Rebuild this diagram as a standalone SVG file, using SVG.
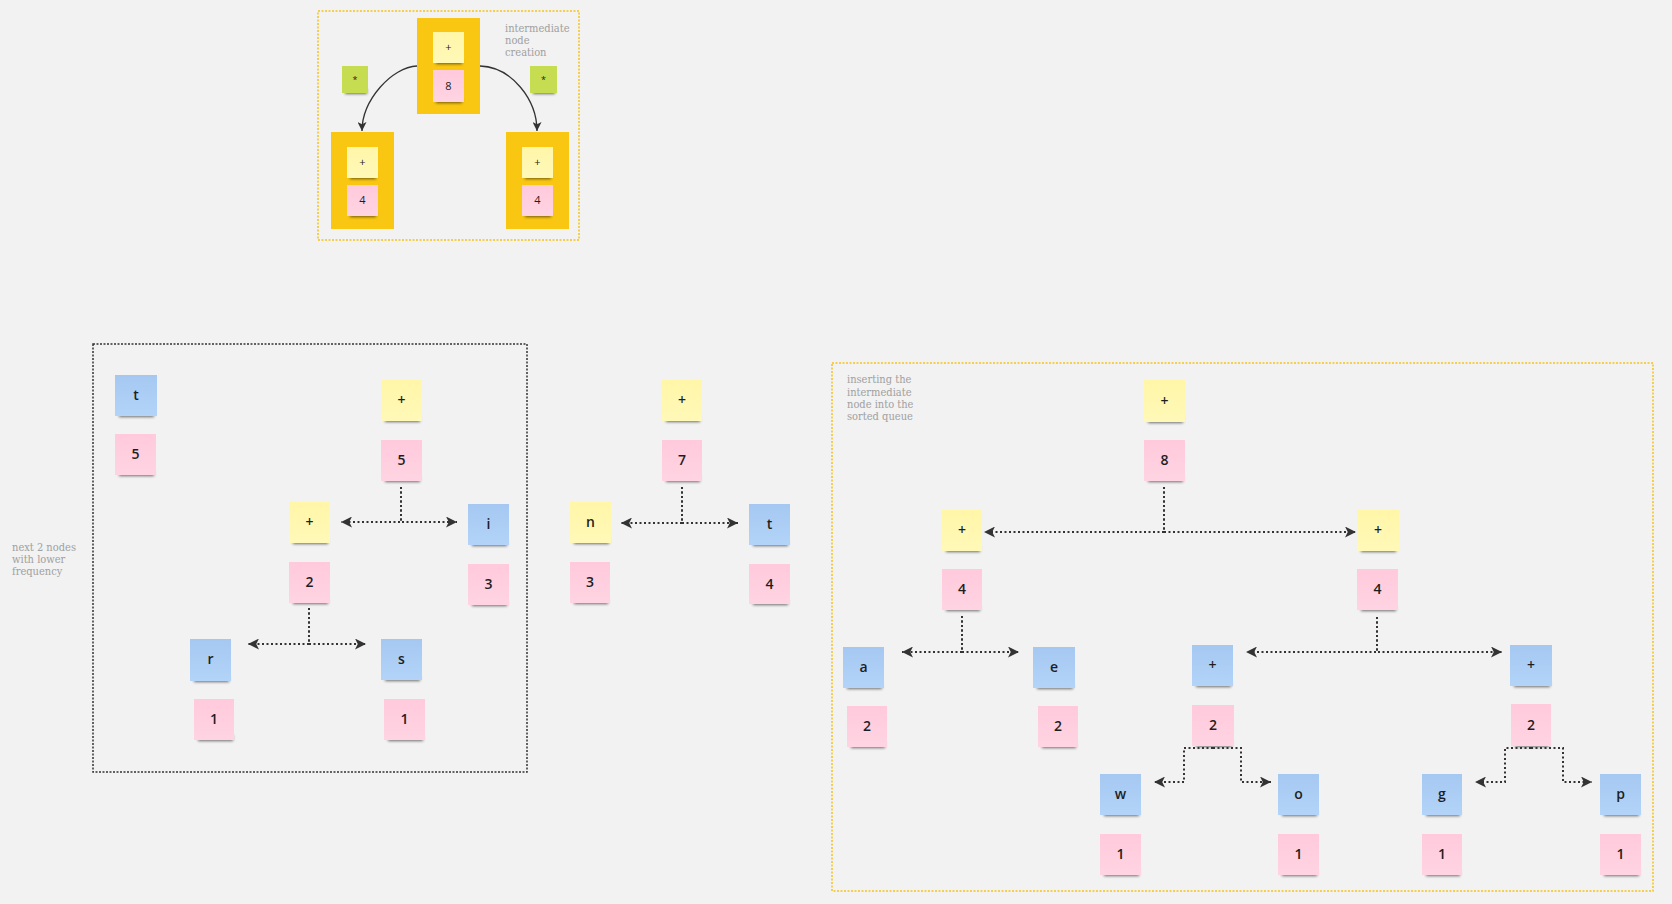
<svg xmlns="http://www.w3.org/2000/svg" width="1672" height="904" viewBox="0 0 1672 904">
<defs>
<style>
.bg{fill:#f2f2f2}
.blue{fill:url(#gBlue)}
.pink{fill:url(#gPink)}
.yel{fill:url(#gYel)}
.grn{fill:#c6dd52}
.org{fill:#f9c612}
.sh{fill:#000;opacity:.55;filter:url(#blur)}
.lbl{font-family:"Open Sans","Liberation Sans",sans-serif;font-size:14px;font-weight:600;fill:#1e1e1e;text-anchor:middle}
.sm{font-family:"Open Sans","Liberation Sans",sans-serif;font-size:11px;fill:#1e1e1e;text-anchor:middle}
.note{font-family:"DejaVu Serif Condensed","DejaVu Serif",serif;font-size:11px;fill:#a0a0a0}
.dot{fill:none;stroke:#333;stroke-width:2;stroke-dasharray:2 2.5}
.curve{fill:none;stroke:#333;stroke-width:1.3}
.frameY{fill:none;stroke:#f7c21a;stroke-width:1.5;stroke-dasharray:2 1.5}
.frameK{fill:none;stroke:#333;stroke-width:1.5;stroke-dasharray:2 1.5}
</style>
<linearGradient id="gBlue" x1="0" y1="0" x2="0" y2="1"><stop offset="0" stop-color="#a5c8f2"/><stop offset="1" stop-color="#b3d4f8"/></linearGradient>
<linearGradient id="gPink" x1="0" y1="0" x2="0" y2="1"><stop offset="0" stop-color="#ffcadc"/><stop offset="1" stop-color="#ffd4e2"/></linearGradient>
<linearGradient id="gYel" x1="0" y1="0" x2="0" y2="1"><stop offset="0" stop-color="#fff6a8"/><stop offset="1" stop-color="#fff9b8"/></linearGradient>
<filter id="blur" x="-20%" y="-100%" width="140%" height="300%"><feGaussianBlur stdDeviation="1.4"/></filter>
<marker id="ah" viewBox="0 0 10 10" refX="10" refY="5" markerWidth="11" markerHeight="11" markerUnits="userSpaceOnUse" orient="auto"><path d="M0,0 L10,5 L0,10 L2.5,5 Z" fill="#333"/></marker>
<marker id="ahs" viewBox="0 0 8 8" refX="8" refY="4" markerWidth="9" markerHeight="9" markerUnits="userSpaceOnUse" orient="auto"><path d="M0,0 L8,4 L0,8 L2,4 Z" fill="#333"/></marker>
</defs>
<rect class="bg" x="0" y="0" width="1672" height="904"/>

<g id="frames">
<rect class="frameY" x="318" y="11" width="261" height="229"/>
<rect class="frameK" x="93" y="344" width="434" height="428"/>
<rect class="frameY" x="832" y="363" width="821" height="528"/>
</g>

<g id="annotations">
<text class="note" x="505" y="32">intermediate</text>
<text class="note" x="505" y="44">node</text>
<text class="note" x="505" y="56">creation</text>
<text class="note" x="847" y="383">inserting the</text>
<text class="note" x="847" y="396">intermediate</text>
<text class="note" x="847" y="408">node into the</text>
<text class="note" x="847" y="420">sorted queue</text>
<text class="note" x="12" y="551">next 2 nodes</text>
<text class="note" x="12" y="563">with lower</text>
<text class="note" x="12" y="575">frequency</text>
</g>

<!-- top section -->
<g id="top-root">
<rect class="org" x="417" y="18" width="63" height="96"/>
<rect class="sh" x="436" y="59" width="26" height="5"/><rect class="yel" x="433" y="32" width="31" height="31"/><text class="sm" x="448.5" y="51">+</text>
<rect class="sh" x="436" y="98" width="26" height="5"/><rect class="pink" x="433" y="70" width="31" height="32"/><text class="sm" x="448.5" y="90">8</text>
</g>
<g id="top-left">
<rect class="org" x="331" y="132" width="63" height="97"/>
<rect class="sh" x="350" y="174" width="26" height="5"/><rect class="yel" x="347" y="147" width="31" height="31"/><text class="sm" x="362.5" y="166">+</text>
<rect class="sh" x="350" y="212" width="26" height="5"/><rect class="pink" x="347" y="185" width="31" height="31"/><text class="sm" x="362.5" y="204">4</text>
</g>
<g id="top-right">
<rect class="org" x="506" y="132" width="63" height="97"/>
<rect class="sh" x="525" y="174" width="26" height="5"/><rect class="yel" x="522" y="147" width="31" height="31"/><text class="sm" x="537.5" y="166">+</text>
<rect class="sh" x="525" y="212" width="26" height="5"/><rect class="pink" x="522" y="185" width="31" height="31"/><text class="sm" x="537.5" y="204">4</text>
</g>
<g id="top-star-left">
<rect class="sh" x="345" y="89" width="22" height="5"/><rect class="grn" x="342" y="66" width="26" height="27"/><text class="sm" x="355" y="83" style="font-size:9px">*</text>
</g>
<g id="top-star-right">
<rect class="sh" x="533" y="89" width="22" height="5"/><rect class="grn" x="530" y="66" width="27" height="27"/><text class="sm" x="543.5" y="83" style="font-size:9px">*</text>
</g>

<!-- section A -->
<g id="a-t"><rect class="sh" x="119" y="411" width="35" height="6"/><rect class="blue" x="115" y="375" width="42" height="41"/><text class="lbl" x="136" y="400">t</text></g>
<g id="a-t5"><rect class="sh" x="119" y="470" width="35" height="6"/><rect class="pink" x="115" y="434" width="41" height="41"/><text class="lbl" x="135.5" y="459">5</text></g>
<g id="a-plus1"><rect class="sh" x="385" y="416" width="35" height="6"/><rect class="yel" x="381" y="380" width="41" height="41"/><text class="lbl" x="401.5" y="405">+</text></g>
<g id="a-plus1-5"><rect class="sh" x="385" y="476" width="35" height="6"/><rect class="pink" x="381" y="440" width="41" height="41"/><text class="lbl" x="401.5" y="465">5</text></g>
<g id="a-plus2"><rect class="sh" x="293" y="538" width="35" height="6"/><rect class="yel" x="289" y="502" width="41" height="41"/><text class="lbl" x="309.5" y="527">+</text></g>
<g id="a-plus2-2"><rect class="sh" x="293" y="598" width="35" height="6"/><rect class="pink" x="289" y="562" width="41" height="41"/><text class="lbl" x="309.5" y="587">2</text></g>
<g id="a-i"><rect class="sh" x="472" y="540" width="35" height="6"/><rect class="blue" x="468" y="504" width="41" height="41"/><text class="lbl" x="488.5" y="529">i</text></g>
<g id="a-i3"><rect class="sh" x="472" y="600" width="35" height="6"/><rect class="pink" x="468" y="564" width="41" height="41"/><text class="lbl" x="488.5" y="589">3</text></g>
<g id="a-r"><rect class="sh" x="194" y="676" width="35" height="6"/><rect class="blue" x="190" y="639" width="41" height="42"/><text class="lbl" x="210.5" y="664">r</text></g>
<g id="a-r1"><rect class="sh" x="198" y="735" width="35" height="6"/><rect class="pink" x="194" y="699" width="40" height="41"/><text class="lbl" x="214" y="724">1</text></g>
<g id="a-s"><rect class="sh" x="385" y="675" width="35" height="6"/><rect class="blue" x="381" y="639" width="41" height="41"/><text class="lbl" x="401.5" y="664">s</text></g>
<g id="a-s1"><rect class="sh" x="388" y="735" width="35" height="6"/><rect class="pink" x="384" y="699" width="41" height="41"/><text class="lbl" x="404.5" y="724">1</text></g>

<!-- section B -->
<g id="b-plus"><rect class="sh" x="666" y="416" width="34" height="6"/><rect class="yel" x="662" y="380" width="40" height="41"/><text class="lbl" x="682" y="405">+</text></g>
<g id="b-plus7"><rect class="sh" x="666" y="476" width="34" height="6"/><rect class="pink" x="662" y="440" width="40" height="41"/><text class="lbl" x="682" y="465">7</text></g>
<g id="b-n"><rect class="sh" x="574" y="538" width="35" height="6"/><rect class="yel" x="570" y="502" width="41" height="41"/><text class="lbl" x="590.5" y="527">n</text></g>
<g id="b-n3"><rect class="sh" x="574" y="598" width="34" height="6"/><rect class="pink" x="570" y="562" width="40" height="41"/><text class="lbl" x="590" y="587">3</text></g>
<g id="b-t"><rect class="sh" x="753" y="540" width="35" height="6"/><rect class="blue" x="749" y="504" width="41" height="41"/><text class="lbl" x="769.5" y="529">t</text></g>
<g id="b-t4"><rect class="sh" x="753" y="599" width="35" height="6"/><rect class="pink" x="749" y="564" width="41" height="40"/><text class="lbl" x="769.5" y="589">4</text></g>

<!-- section C -->
<g id="c-root"><rect class="sh" x="1148" y="417" width="35" height="6"/><rect class="yel" x="1144" y="380" width="41" height="42"/><text class="lbl" x="1164.5" y="406">+</text></g>
<g id="c-root8"><rect class="sh" x="1148" y="476" width="35" height="6"/><rect class="pink" x="1144" y="440" width="41" height="41"/><text class="lbl" x="1164.5" y="465">8</text></g>
<g id="c-l"><rect class="sh" x="946" y="546" width="34" height="6"/><rect class="yel" x="942" y="510" width="40" height="41"/><text class="lbl" x="962" y="535">+</text></g>
<g id="c-l4"><rect class="sh" x="946" y="605" width="34" height="6"/><rect class="pink" x="942" y="569" width="40" height="41"/><text class="lbl" x="962" y="594">4</text></g>
<g id="c-r"><rect class="sh" x="1361" y="546" width="35" height="6"/><rect class="yel" x="1357" y="510" width="42" height="41"/><text class="lbl" x="1378" y="535">+</text></g>
<g id="c-r4"><rect class="sh" x="1361" y="605" width="35" height="6"/><rect class="pink" x="1357" y="569" width="41" height="41"/><text class="lbl" x="1377.5" y="594">4</text></g>
<g id="c-a"><rect class="sh" x="847" y="683" width="35" height="6"/><rect class="blue" x="843" y="647" width="41" height="41"/><text class="lbl" x="863.5" y="672">a</text></g>
<g id="c-a2"><rect class="sh" x="851" y="742" width="34" height="6"/><rect class="pink" x="847" y="706" width="40" height="41"/><text class="lbl" x="867" y="731">2</text></g>
<g id="c-e"><rect class="sh" x="1037" y="683" width="36" height="6"/><rect class="blue" x="1033" y="647" width="42" height="41"/><text class="lbl" x="1054" y="672">e</text></g>
<g id="c-e2"><rect class="sh" x="1042" y="742" width="34" height="6"/><rect class="pink" x="1038" y="706" width="40" height="41"/><text class="lbl" x="1058" y="731">2</text></g>
<g id="c-lp"><rect class="sh" x="1196" y="681" width="35" height="6"/><rect class="blue" x="1192" y="645" width="41" height="41"/><text class="lbl" x="1212.5" y="670">+</text></g>
<g id="c-lp2"><rect class="sh" x="1196" y="741" width="36" height="6"/><rect class="pink" x="1192" y="705" width="42" height="41"/><text class="lbl" x="1213" y="730">2</text></g>
<g id="c-rp"><rect class="sh" x="1514" y="681" width="36" height="6"/><rect class="blue" x="1510" y="645" width="42" height="41"/><text class="lbl" x="1531" y="670">+</text></g>
<g id="c-rp2"><rect class="sh" x="1515" y="741" width="34" height="6"/><rect class="pink" x="1511" y="704" width="40" height="42"/><text class="lbl" x="1531" y="730">2</text></g>
<g id="c-w"><rect class="sh" x="1104" y="810" width="35" height="6"/><rect class="blue" x="1100" y="774" width="41" height="41"/><text class="lbl" x="1120.5" y="799">w</text></g>
<g id="c-w1"><rect class="sh" x="1104" y="870" width="35" height="6"/><rect class="pink" x="1100" y="834" width="41" height="41"/><text class="lbl" x="1120.5" y="859">1</text></g>
<g id="c-o"><rect class="sh" x="1282" y="810" width="35" height="6"/><rect class="blue" x="1278" y="774" width="41" height="41"/><text class="lbl" x="1298.5" y="799">o</text></g>
<g id="c-o1"><rect class="sh" x="1282" y="870" width="35" height="6"/><rect class="pink" x="1278" y="834" width="41" height="41"/><text class="lbl" x="1298.5" y="859">1</text></g>
<g id="c-g"><rect class="sh" x="1426" y="810" width="34" height="6"/><rect class="blue" x="1422" y="774" width="40" height="41"/><text class="lbl" x="1442" y="799">g</text></g>
<g id="c-g1"><rect class="sh" x="1426" y="870" width="34" height="6"/><rect class="pink" x="1422" y="834" width="40" height="41"/><text class="lbl" x="1442" y="859">1</text></g>
<g id="c-p"><rect class="sh" x="1604" y="810" width="35" height="6"/><rect class="blue" x="1600" y="774" width="41" height="41"/><text class="lbl" x="1620.5" y="799">p</text></g>
<g id="c-p1"><rect class="sh" x="1604" y="870" width="35" height="6"/><rect class="pink" x="1600" y="834" width="41" height="41"/><text class="lbl" x="1620.5" y="859">1</text></g>

<g id="connectors">
<path class="curve" d="M417,66 C392,67 362,100 362,131" marker-end="url(#ahs)"/>
<path class="curve" d="M480,66 C512,67 537,100 537,131" marker-end="url(#ahs)"/>

<path class="dot" d="M401,487 L401,522 L341,522" marker-end="url(#ah)"/>
<path class="dot" d="M401,487 L401,522 L457,522" marker-end="url(#ah)"/>
<path class="dot" d="M309,608 L309,644 L248,644" marker-end="url(#ah)"/>
<path class="dot" d="M309,608 L309,644 L366,644" marker-end="url(#ah)"/>

<path class="dot" d="M682,487 L682,523 L621,523" marker-end="url(#ah)"/>
<path class="dot" d="M682,487 L682,523 L738,523" marker-end="url(#ah)"/>

<path class="dot" d="M1164,487 L1164,532 L984,532" marker-end="url(#ah)"/>
<path class="dot" d="M1164,487 L1164,532 L1356,532" marker-end="url(#ah)"/>
<path class="dot" d="M962,616 L962,652 L902,652" marker-end="url(#ah)"/>
<path class="dot" d="M962,616 L962,652 L1019,652" marker-end="url(#ah)"/>
<path class="dot" d="M1377,617 L1377,652 L1246,652" marker-end="url(#ah)"/>
<path class="dot" d="M1377,617 L1377,652 L1502,652" marker-end="url(#ah)"/>
<path class="dot" d="M1213,748 L1184,748 L1184,782 L1154,782" marker-end="url(#ah)"/>
<path class="dot" d="M1213,748 L1241,748 L1241,782 L1271,782" marker-end="url(#ah)"/>
<path class="dot" d="M1531,748 L1505,748 L1505,782 L1475,782" marker-end="url(#ah)"/>
<path class="dot" d="M1531,748 L1563,748 L1563,782 L1592,782" marker-end="url(#ah)"/>
</g>
</svg>
